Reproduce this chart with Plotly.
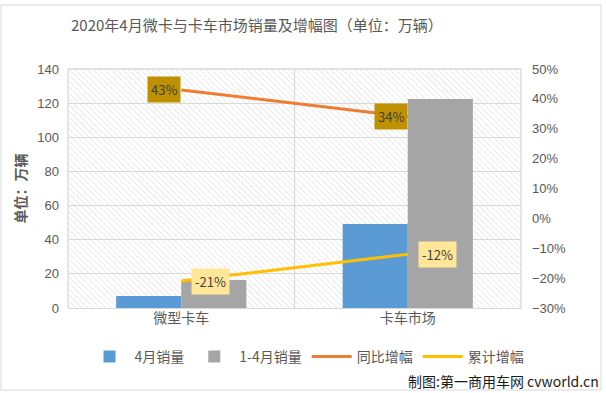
import base64
import plotly.graph_objects as go

categories = ["微型卡车", "卡车市场"]
sales_april = [7.0, 49.2]
sales_jan_apr = [16.4, 122.4]
yoy_growth = [43, 34]
cum_growth = [-21, -12]
yoy_labels = ["43%", "34%"]
cum_labels = ["-21%", "-12%"]

FONT = "Noto Sans CJK SC, Noto Sans, sans-serif"
GRAY = "#595959"

# plot-area geometry (pixels)
W, H = 606, 393
L, R, T, B = 68, 85, 69, 85
PW, PH = W - L - R, H - T - B

def px(x):
    return (x - L) / PW

def py(y):
    return (H - B - y) / PH

svg = (
    f"<svg xmlns='http://www.w3.org/2000/svg' width='{PW}' height='{PH}'>"
    "<defs><pattern id='p' width='4.2' height='4.2' patternUnits='userSpaceOnUse' "
    "patternTransform='rotate(-45)'>"
    "<line x1='0' y1='0' x2='0' y2='4.2' stroke='#c9c9c9' stroke-width='1.1' "
    "stroke-dasharray='1.4 0.6'/></pattern></defs>"
    "<rect width='100%' height='100%' fill='white'/>"
    "<rect width='100%' height='100%' fill='url(#p)'/></svg>"
)
hatch = "data:image/svg+xml;base64," + base64.b64encode(svg.encode()).decode()

fig = go.Figure()
fig.add_trace(go.Bar(x=categories, y=sales_april, name="4月销量",
                     marker=dict(color="#5b9bd5", line=dict(width=0))))
fig.add_trace(go.Bar(x=categories, y=sales_jan_apr, name="1-4月销量",
                     marker=dict(color="#a5a5a5", line=dict(width=0))))
fig.add_trace(go.Scatter(x=categories, y=yoy_growth, name="同比增幅", yaxis="y2",
                         mode="lines", line=dict(color="#ed7d31", width=3)))
fig.add_trace(go.Scatter(x=categories, y=cum_growth, name="累计增幅", yaxis="y2",
                         mode="lines", line=dict(color="#ffc000", width=3)))

annotations = []
for c, v, t in zip(categories, yoy_growth, yoy_labels):
    annotations.append(dict(x=c, y=v, yref="y2", xref="x", text=t, showarrow=False,
                            xanchor="right", yanchor="middle", xshift=0,
                            bgcolor="#bf9000", borderpad=3,
                            font=dict(family=FONT, size=13, color="#404040")))
for c, v, t in zip(categories, cum_growth, cum_labels):
    annotations.append(dict(x=c, y=v, yref="y2", xref="x", text=t, showarrow=False,
                            xanchor="left", yanchor="middle", xshift=10,
                            bgcolor="#ffe699", borderpad=3,
                            font=dict(family=FONT, size=13, color="#404040")))
annotations.append(dict(xref="paper", yref="paper", x=px(601), y=py(381),
                        text="制图:第一商用车网 cvworld.cn", showarrow=False,
                        xanchor="right", yanchor="middle",
                        font=dict(family=FONT, size=14, color="#1a1a1a")))
annotations.append(dict(xref="paper", yref="paper", x=px(19), y=0.5,
                        text="<b>单位：万辆</b>", showarrow=False, textangle=-90,
                        xanchor="center", yanchor="middle",
                        font=dict(family=FONT, size=14, color=GRAY)))
annotations.append(dict(xref="paper", yref="paper", x=px(257), y=py(25),
                        text="2020年4月微卡与卡车市场销量及增幅图（单位：万辆）",
                        showarrow=False, xanchor="center", yanchor="middle",
                        font=dict(family=FONT, size=15, color=GRAY)))

shapes = [
    dict(type="rect", xref="paper", yref="paper", x0=px(1), x1=px(601),
         y0=py(390), y1=py(5), line=dict(color="#d9d9d9", width=1), layer="below"),
    dict(type="line", xref="paper", yref="paper", x0=0, x1=0, y0=0, y1=1,
         line=dict(color="#d9d9d9", width=1.3)),
    dict(type="line", xref="paper", yref="paper", x0=0.5, x1=0.5, y0=0, y1=1,
         line=dict(color="#d9d9d9", width=1.3), layer="below"),
    dict(type="line", xref="paper", yref="paper", x0=1, x1=1, y0=0, y1=1,
         line=dict(color="#d9d9d9", width=1.3)),
    dict(type="line", xref="paper", yref="paper", x0=0, x1=1, y0=1, y1=1,
         line=dict(color="#d9d9d9", width=1.3)),
]

fig.update_layout(
    width=W, height=H,
    margin=dict(l=L, r=R, t=T, b=B),
    paper_bgcolor="white", plot_bgcolor="rgba(0,0,0,0)",
    barmode="group", bargap=0.425, bargroupgap=0,
    font=dict(family=FONT, color=GRAY),
    xaxis=dict(showgrid=False, showline=False, ticks="",
               tickfont=dict(family=FONT, size=14, color=GRAY)),
    yaxis=dict(range=[0, 140], dtick=20, showgrid=True, gridcolor="#d9d9d9",
               gridwidth=1.3, zeroline=True, zerolinecolor="#d9d9d9", zerolinewidth=1.3,
               showline=False, ticks="", ticklabelstandoff=8,
               tickfont=dict(family="Liberation Sans, sans-serif", size=13, color=GRAY)),
    yaxis2=dict(range=[-30, 50], dtick=10, overlaying="y", side="right",
                showgrid=False, zeroline=False, ticksuffix="%", ticks="",
                ticklabelstandoff=10,
                tickfont=dict(family="Liberation Sans, sans-serif", size=13, color=GRAY)),
    legend=dict(orientation="h", x=px(307), xanchor="center", y=py(357), yanchor="middle",
                font=dict(family=FONT, size=14, color=GRAY), itemwidth=40,
                bgcolor="rgba(0,0,0,0)"),
    images=[dict(source=hatch, xref="paper", yref="paper", x=0, y=1,
                 sizex=1, sizey=1, sizing="stretch", layer="below",
                 xanchor="left", yanchor="top")],
    shapes=shapes,
    annotations=annotations,
)

fig.write_html("out.html", config={"displayModeBar": False},
               post_script="document.body.style.margin='0';document.body.style.overflow='hidden';")
